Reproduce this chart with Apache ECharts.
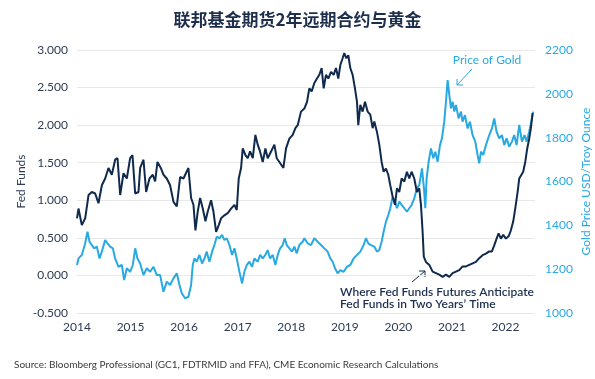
<!DOCTYPE html>
<html>
<head>
<meta charset="utf-8">
<script src="https://cdn.jsdelivr.net/npm/echarts@6/dist/echarts.min.js"></script>
<style>
html,body{margin:0;padding:0;background:#fff;}
#chart{width:595px;height:379px;}
</style>
</head>
<body>
<div id="chart"></div>
<script>
var titleText = '联邦基金期货2年远期合约与黄金';
var sourceText = 'Source: Bloomberg Professional (GC1, FDTRMID and FFA), CME Economic Research Calculations';
var leftAxisName = 'Fed Funds';
var rightAxisName = 'Gold Price USD/Troy Ounce';
var goldLabel = 'Price of Gold';
var fedLabel = 'Where Fed Funds Futures Anticipate\nFed Funds in Two Years\u2019 Time';

var fedYears = [2014.0,2014.028,2014.09,2014.153,2014.215,2014.277,2014.339,2014.401,2014.464,2014.526,2014.588,2014.65,2014.712,2014.756,2014.806,2014.868,2014.93,2014.992,2015.036,2015.086,2015.148,2015.179,2015.241,2015.291,2015.353,2015.415,2015.459,2015.502,2015.564,2015.614,2015.676,2015.738,2015.801,2015.863,2015.925,2015.987,2016.08,
2016.13,2016.174,2016.211,2016.254,2016.298,2016.348,2016.398,2016.441,2016.503,2016.547,2016.597,2016.646,2016.69,2016.752,2016.814,2016.876,2016.939,2016.982,2017.019,2017.063,2017.094,2017.144,2017.187,2017.231,2017.281,2017.33,2017.374,2017.417,2017.467,2017.517,2017.56,2017.623,2017.685,2017.728,2017.778,2017.853,2017.902,2017.965,2018.027,2018.077,2018.12,2018.182,
2018.244,2018.294,2018.337,2018.381,2018.431,2018.48,2018.524,2018.567,2018.605,2018.648,2018.692,2018.742,2018.791,2018.835,2018.878,2018.916,2018.959,2018.99,2019.028,2019.065,2019.102,2019.146,2019.189,2019.227,2019.251,2019.289,2019.332,2019.376,2019.426,2019.475,2019.519,2019.55,2019.6,2019.643,2019.687,2019.724,2019.768,2019.811,2019.848,2019.892,2019.936,2019.973,2020.016,2020.06,2020.11,2020.159,2020.203,2020.246,2020.296,2020.346,2020.389,2020.421,2020.452,
2020.474,2020.514,2020.577,2020.639,2020.701,2020.763,2020.825,2020.888,2020.95,2021.012,2021.074,2021.136,2021.198,2021.261,2021.323,2021.385,2021.447,2021.509,2021.572,2021.634,2021.696,2021.746,2021.789,2021.833,2021.87,2021.914,2021.957,2022.007,2022.057,2022.1,2022.144,2022.181,2022.225,2022.256,2022.293,2022.33,2022.368,2022.405,2022.442,2022.473,2022.505];
var fedValues = [0.76,0.89,0.67,0.76,1.07,1.11,1.09,0.96,1.20,1.29,1.43,1.34,1.54,1.56,1.07,1.36,1.29,1.56,1.60,1.09,1.11,1.43,1.54,1.11,1.29,1.34,1.25,1.51,1.43,1.34,1.29,1.20,0.98,0.92,1.31,1.29,1.43,
1.03,0.94,0.60,0.85,1.03,0.89,0.72,0.85,1.00,0.85,0.58,0.67,0.76,0.80,0.83,0.89,0.94,0.87,1.29,1.43,1.69,1.60,1.56,1.65,1.56,1.87,1.74,1.65,1.51,1.69,1.56,1.65,1.74,1.56,1.51,1.43,1.69,1.82,1.87,1.96,2.00,2.18,
2.22,2.31,2.49,2.45,2.56,2.62,2.67,2.76,2.49,2.67,2.62,2.71,2.67,2.76,2.62,2.80,2.89,2.96,2.89,2.93,2.76,2.67,2.49,2.31,2.00,2.27,2.18,2.31,2.18,2.14,1.96,2.05,1.91,1.74,1.51,1.38,1.42,1.34,1.20,1.05,0.94,1.16,1.11,1.29,1.25,1.38,1.29,1.38,1.29,1.11,1.16,0.94,0.58,
0.25,0.18,0.14,0.05,0.03,0.01,-0.02,0.01,-0.02,0.03,0.05,0.07,0.12,0.12,0.14,0.16,0.18,0.23,0.27,0.29,0.32,0.32,0.40,0.49,0.56,0.49,0.54,0.49,0.52,0.60,0.72,0.89,1.11,1.29,1.31,1.38,1.51,1.69,1.82,1.96,2.16];

var goldYears = [2014.0,2014.028,2014.09,2014.153,2014.196,2014.234,2014.277,2014.321,2014.37,2014.42,2014.464,2014.526,2014.569,2014.619,2014.669,2014.712,2014.775,2014.837,2014.88,2014.93,2014.992,2015.042,2015.086,2015.129,2015.179,2015.241,2015.303,2015.365,2015.428,2015.49,2015.552,2015.614,2015.676,2015.738,2015.801,2015.863,2015.913,2015.956,2016.018,2016.08,
2016.13,2016.161,2016.192,2016.236,2016.286,2016.335,2016.379,2016.422,2016.472,2016.522,2016.565,2016.609,2016.659,2016.708,2016.752,2016.796,2016.845,2016.895,2016.939,2016.982,2017.032,2017.082,2017.125,2017.169,2017.218,2017.268,2017.312,2017.374,2017.417,2017.467,2017.517,2017.56,2017.604,2017.654,2017.703,2017.747,2017.791,2017.84,2017.878,2017.915,2017.965,2018.014,2018.058,2018.101,2018.151,2018.213,
2018.244,2018.306,2018.368,2018.431,2018.493,2018.555,2018.617,2018.679,2018.729,2018.773,2018.816,2018.866,2018.916,2018.978,2019.04,2019.102,2019.164,2019.227,2019.289,2019.351,2019.394,2019.438,2019.488,2019.55,2019.6,2019.643,2019.687,2019.724,2019.768,2019.811,2019.848,2019.892,2019.936,2019.973,2020.016,2020.06,2020.11,2020.159,2020.203,2020.246,2020.296,2020.346,
2020.39,2020.44,2020.477,2020.502,2020.527,2020.564,2020.608,2020.651,2020.689,2020.732,2020.776,2020.813,2020.856,2020.888,2020.919,2020.95,2020.981,2021.012,2021.043,2021.074,2021.124,2021.167,2021.198,2021.242,2021.292,2021.335,2021.385,2021.435,2021.478,2021.509,2021.541,2021.584,2021.634,2021.696,2021.746,2021.789,2021.833,2021.883,2021.932,2021.976,2022.019,2022.069,2022.119,2022.162,2022.206,2022.256,2022.306,2022.355,2022.393,2022.442,2022.48,2022.517];
var goldValues = [1219,1249,1265,1318,1371,1325,1310,1295,1303,1249,1280,1333,1318,1303,1295,1249,1211,1219,1150,1204,1188,1219,1295,1249,1226,1173,1204,1188,1211,1173,1173,1097,1143,1128,1158,1181,1128,1090,1067,1074,
1128,1219,1249,1234,1265,1226,1249,1280,1234,1280,1310,1348,1341,1356,1333,1341,1310,1265,1295,1249,1188,1135,1188,1219,1234,1211,1249,1234,1265,1249,1265,1287,1249,1265,1219,1265,1295,1310,1341,1310,1295,1280,1303,1272,1310,1325,
1341,1318,1310,1341,1325,1310,1295,1280,1249,1234,1204,1181,1196,1188,1211,1219,1249,1265,1280,1310,1341,1318,1310,1303,1280,1287,1325,1371,1417,1447,1478,1531,1508,1478,1508,1493,1478,1462,1478,1493,1523,1569,
1584,1660,1569,1478,1614,1690,1751,1706,1736,1690,1766,1797,1873,1964,2063,1995,1934,1964,1919,1949,1888,1919,1873,1903,1842,1873,1812,1782,1721,1683,1736,1721,1766,1812,1842,1888,1827,1797,1812,1766,1797,1759,1782,1812,1766,1858,1782,1812,1782,1827,1873,1919];

var leftTicks = {min: -0.5, max: 3, interval: 0.5};
var rightTicks = {min: 1000, max: 2200, interval: 200};
var xRange = {min: 2014, max: 2022.55, interval: 1};

function zip(a, b) { return a.map(function (x, i) { return [x, b[i]]; }); }

var NAVY = '#0f2a4d';
var BLUE = '#29a9e1';
var TEXT = '#2e3b52';
var FONT = 'Lato';

var chart = echarts.init(document.getElementById('chart'), null, {renderer: 'canvas'});
chart.setOption({
  backgroundColor: '#ffffff',
  animation: false,
  title: {
    text: titleText, left: 'center', top: 6,
    textStyle: {fontFamily: 'Noto Sans CJK SC', fontSize: 17, fontWeight: 'bold', color: '#1e2f4d'}
  },
  grid: {left: 77, right: 60, top: 50, bottom: 66, containLabel: false, outerBoundsMode: 'none'},
  xAxis: {
    type: 'value', min: xRange.min, max: xRange.max, interval: xRange.interval,
    axisLine: {show: false}, axisTick: {show: false}, splitLine: {show: false},
    axisLabel: {
      showMaxLabel: false, margin: 8, color: TEXT, fontFamily: FONT, fontSize: 12,
      formatter: function (v) { return Number.isInteger(v) ? String(v) : ''; }
    }
  },
  yAxis: [{
    type: 'value', position: 'left', min: leftTicks.min, max: leftTicks.max, interval: leftTicks.interval,
    name: leftAxisName, nameLocation: 'middle', nameGap: 50, nameRotate: 90, nameMoveOverlap: false,
    nameTextStyle: {color: TEXT, fontFamily: FONT, fontSize: 12},
    axisLine: {show: false}, axisTick: {show: false},
    splitLine: {show: true, lineStyle: {color: '#e8e8e8', width: 1}},
    axisLabel: {color: TEXT, fontFamily: FONT, fontSize: 12, margin: 9,
      formatter: function (v) { return v.toFixed(3); }}
  }, {
    type: 'value', position: 'right', min: rightTicks.min, max: rightTicks.max, interval: rightTicks.interval,
    name: rightAxisName, nameLocation: 'middle', nameGap: 45, nameRotate: 90, nameMoveOverlap: false,
    nameTextStyle: {color: BLUE, fontFamily: FONT, fontSize: 12},
    axisLine: {show: false}, axisTick: {show: false}, splitLine: {show: false},
    axisLabel: {color: BLUE, fontFamily: FONT, fontSize: 12, margin: 10,
      formatter: function (v) { return String(v); }}
  }],
  series: [{
    name: 'Gold', type: 'line', yAxisIndex: 1, data: zip(goldYears, goldValues),
    showSymbol: false, symbol: 'none', lineStyle: {color: BLUE, width: 2}, z: 2
  }, {
    name: 'Fed Funds', type: 'line', yAxisIndex: 0, data: zip(fedYears, fedValues),
    showSymbol: false, symbol: 'none', lineStyle: {color: NAVY, width: 2}, z: 3
  }],
  graphic: [
    {type: 'text', left: 14, top: 360,
     style: {text: sourceText, fill: '#3a3a3a', font: '10px Lato'}},
    {type: 'text', x: 487, y: 60,
     style: {text: goldLabel, fill: BLUE, font: '12px Lato', textAlign: 'center', textVerticalAlign: 'middle'}},
    {type: 'line', shape: {x1: 472, y1: 69, x2: 457, y2: 85}, style: {stroke: BLUE, lineWidth: 1}},
    {type: 'polyline', shape: {points: [[457, 79], [457, 85], [463, 85]]}, style: {stroke: BLUE, lineWidth: 1, fill: null}},
    {type: 'text', x: 340, y: 298,
     style: {text: fedLabel, fill: '#1c2f4f', font: '600 12px Lato', textAlign: 'left', textVerticalAlign: 'middle', lineHeight: 12}},
    {type: 'line', shape: {x1: 412, y1: 282, x2: 425, y2: 271}, style: {stroke: NAVY, lineWidth: 1}},
    {type: 'polyline', shape: {points: [[419, 271], [425, 271], [425, 277]]}, style: {stroke: NAVY, lineWidth: 1, fill: null}}
  ]
});
</script>
</body>
</html>
